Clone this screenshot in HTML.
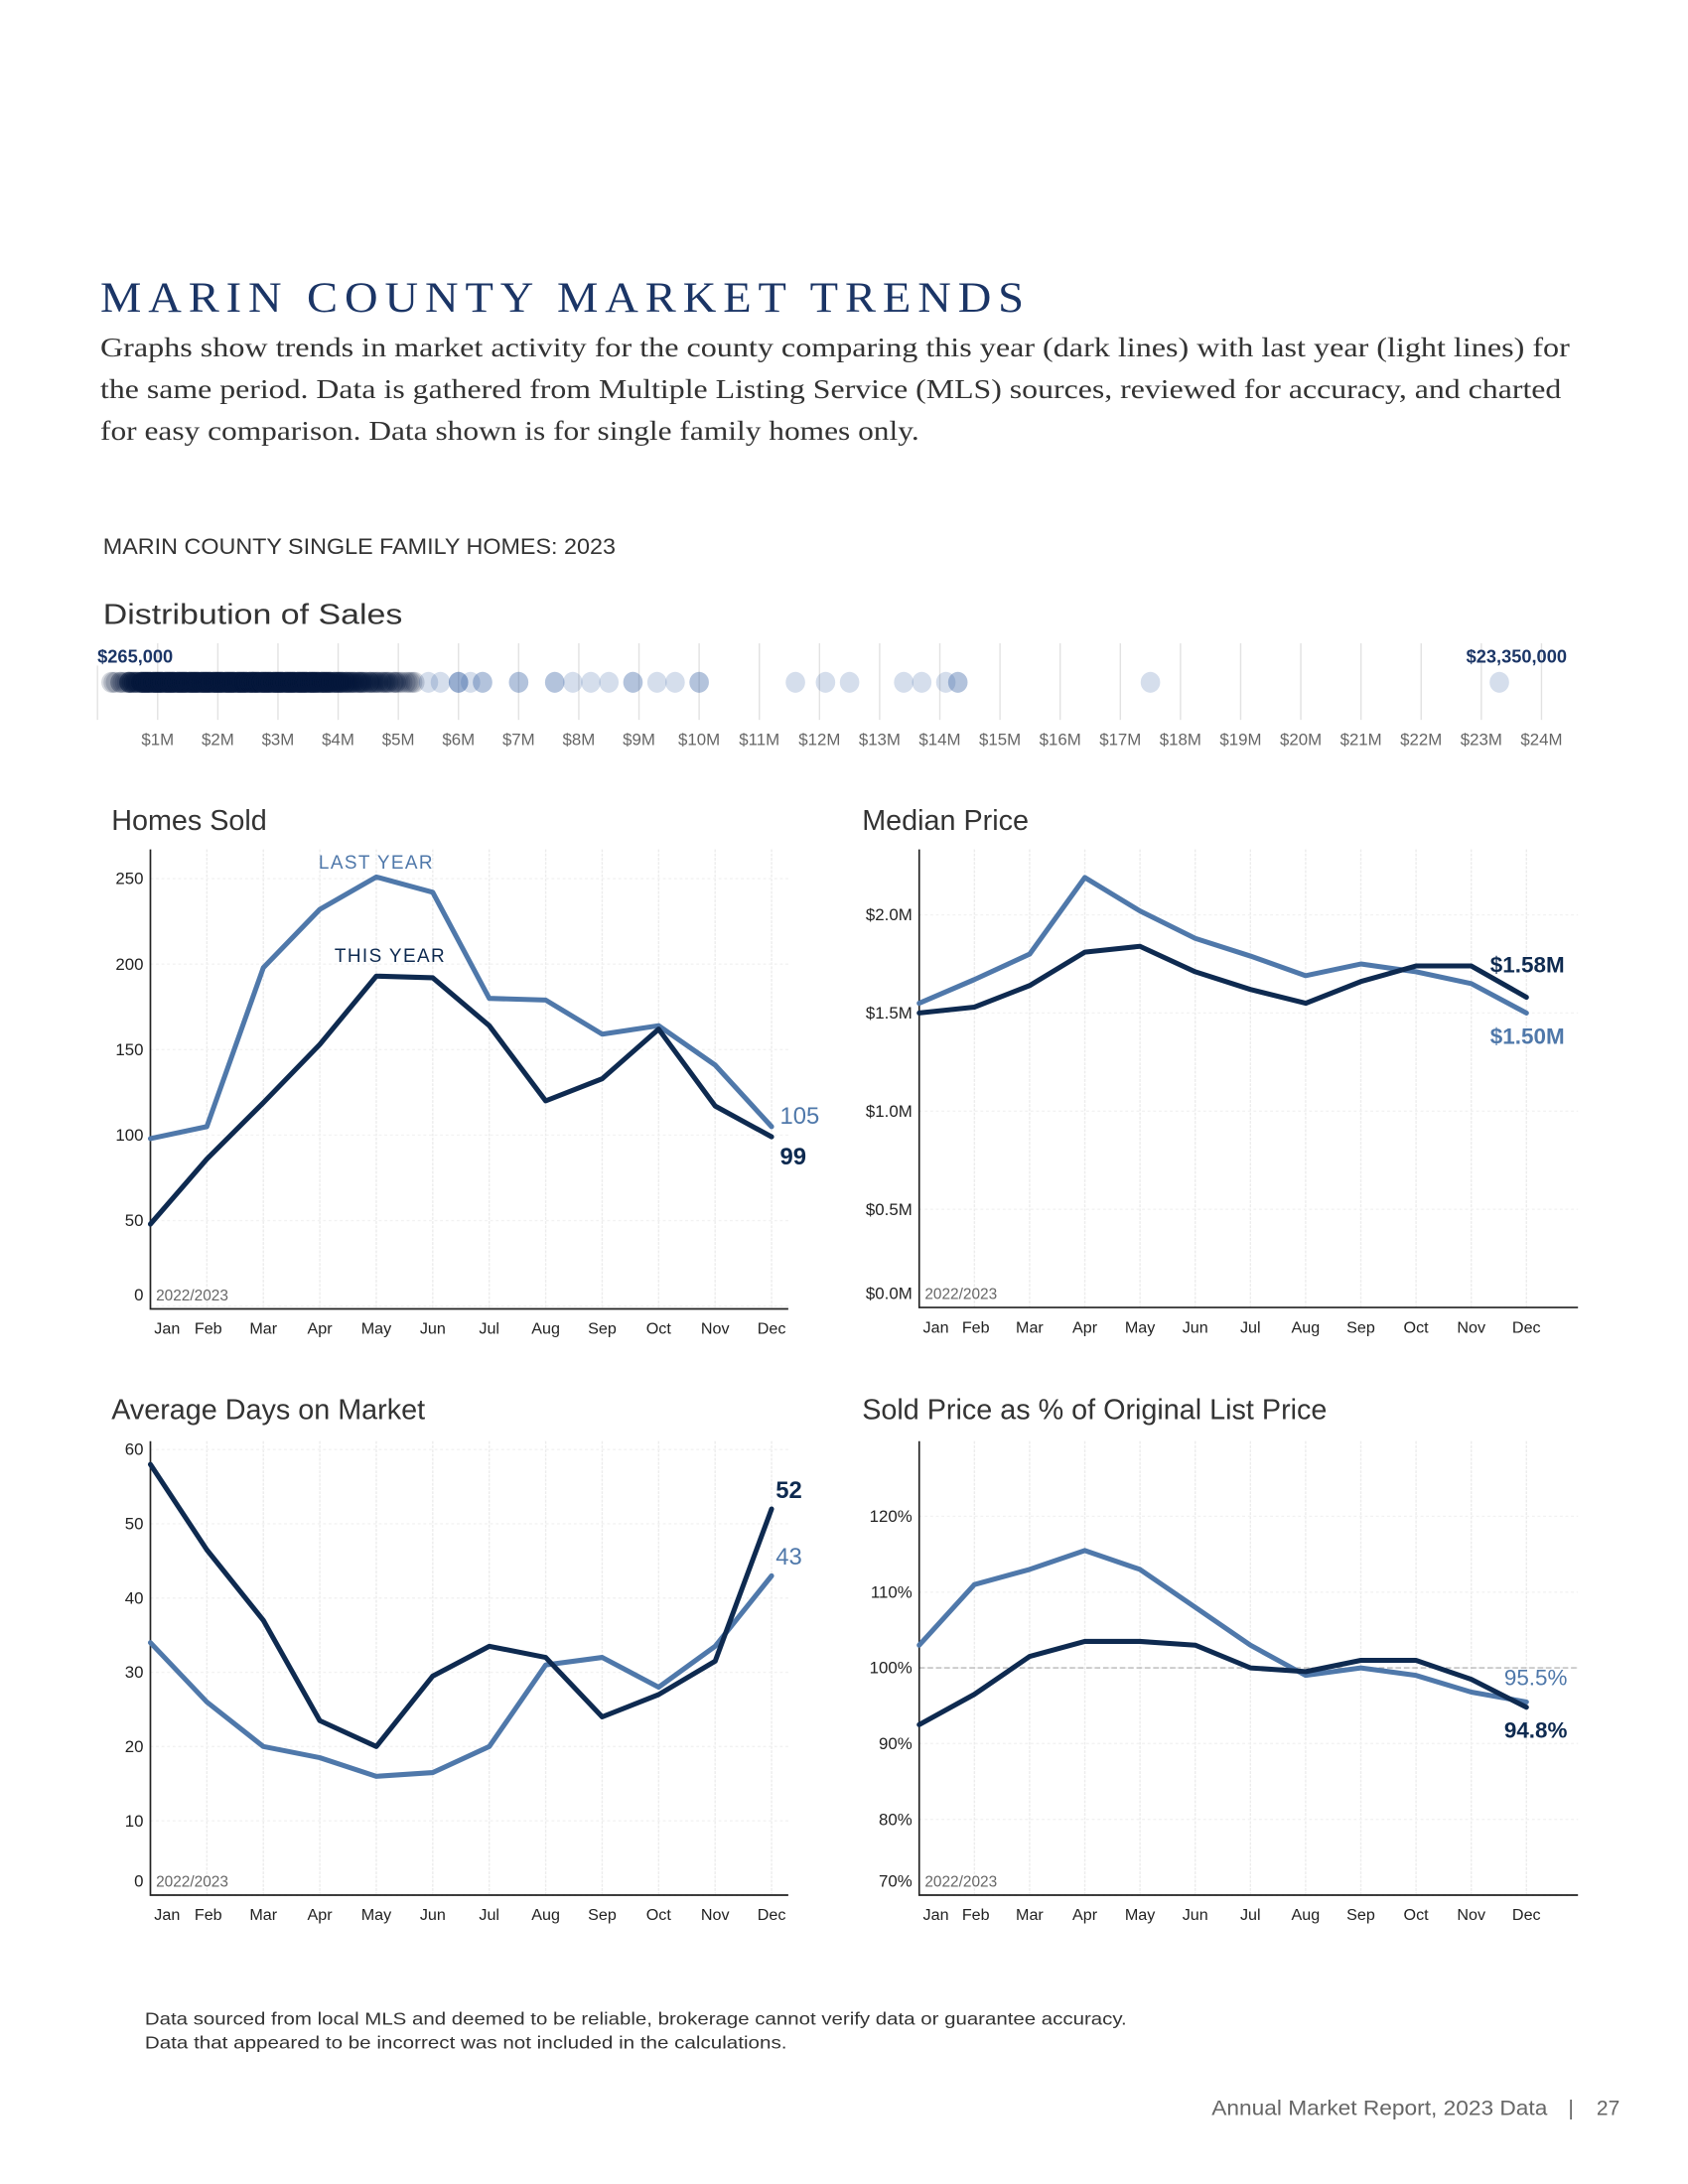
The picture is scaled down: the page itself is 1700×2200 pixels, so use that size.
<!DOCTYPE html>
<html><head><meta charset="utf-8">
<style>
html,body{margin:0;padding:0;background:#fff;}
svg{display:block;}
text{font-family:"Liberation Sans",sans-serif;}
</style></head>
<body>
<svg id="page" width="1700" height="2200" viewBox="0 0 1212 1568" preserveAspectRatio="xMinYMin meet" xmlns="http://www.w3.org/2000/svg">
<rect x="0" y="0" width="1224" height="1584" fill="#fff"/>
<text x="72" y="224" font-size="31" fill="#1b3566" letter-spacing="4.6" textLength="668" lengthAdjust="spacingAndGlyphs" style="font-family:'Liberation Serif',serif">MARIN COUNTY MARKET TRENDS</text>
<g fill="#333" font-size="19.5">
<text x="72" y="256" textLength="1055" lengthAdjust="spacingAndGlyphs" style="font-family:'Liberation Serif',serif">Graphs show trends in market activity for the county comparing this year (dark lines) with last year (light lines) for</text>
<text x="72" y="286" textLength="1049" lengthAdjust="spacingAndGlyphs" style="font-family:'Liberation Serif',serif">the same period. Data is gathered from Multiple Listing Service (MLS) sources, reviewed for accuracy, and charted</text>
<text x="72" y="316" textLength="588" lengthAdjust="spacingAndGlyphs" style="font-family:'Liberation Serif',serif">for easy comparison. Data shown is for single family homes only.</text>
</g>
<text x="74" y="398" font-size="16" fill="#333" textLength="368" lengthAdjust="spacingAndGlyphs">MARIN COUNTY SINGLE FAMILY HOMES: 2023</text>
<text x="74" y="448" font-size="20.5" fill="#333" textLength="215" lengthAdjust="spacingAndGlyphs">Distribution of Sales</text>
<g id="dist"></g>
<g id="c1"></g>
<g id="c2"></g>
<g id="c3"></g>
<g id="c4"></g>
<g fill="#333" font-size="12.5">
<text x="104" y="1454" textLength="705" lengthAdjust="spacingAndGlyphs">Data sourced from local MLS and deemed to be reliable, brokerage cannot verify data or guarantee accuracy.</text>
<text x="104" y="1471" textLength="461" lengthAdjust="spacingAndGlyphs">Data that appeared to be incorrect was not included in the calculations.</text>
</g>
<g fill="#666" font-size="15">
<text x="870" y="1519" textLength="241" lengthAdjust="spacingAndGlyphs">Annual Market Report, 2023 Data</text>
<text x="1126" y="1519">|</text>
<text x="1163" y="1519" text-anchor="end">27</text>
</g>
</svg>
<script>
// ---------- data ----------
const months = ["Jan","Feb","Mar","Apr","May","Jun","Jul","Aug","Sep","Oct","Nov","Dec"];
const soldThisYear = [48,86,119,153,193,192,164,120,133,162,117,99];
const soldLastYear = [98,105,198,232,251,242,180,179,159,164,141,105];
const soldTicks = [0,50,100,150,200,250];
const soldTickLabels = ["0","50","100","150","200","250"];
const priceThisYear = [1.50,1.53,1.64,1.81,1.84,1.71,1.62,1.55,1.66,1.74,1.74,1.58];
const priceLastYear = [1.55,1.67,1.80,2.19,2.02,1.88,1.79,1.69,1.75,1.71,1.65,1.50];
const priceTicks = [0,0.5,1.0,1.5,2.0];
const priceTickLabels = ["$0.0M","$0.5M","$1.0M","$1.5M","$2.0M"];
const domThisYear = [58,46.5,37,23.5,20,29.5,33.5,32,24,27,31.5,52];
const domLastYear = [34,26,20,18.5,16,16.5,20,31,32,28,33.5,43];
const domTicks = [0,10,20,30,40,50,60];
const domTickLabels = ["0","10","20","30","40","50","60"];
const pctThisYear = [92.5,96.5,101.5,103.5,103.5,103,100,99.5,101,101,98.5,94.8];
const pctLastYear = [103,111,113,115.5,113,108,103,99,100,99,96.8,95.5];
const pctTicks = [70,80,90,100,110,120];
const pctTickLabels = ["70%","80%","90%","100%","110%","120%"];
// distribution of sales ($M)
const distTicks = [1,2,3,4,5,6,7,8,9,10,11,12,13,14,15,16,17,18,19,20,21,22,23,24];
const denseBucketPrices = [0.3,0.45,0.6,0.8,1.0,1.2,1.4,1.6,1.8,2.0,2.2,2.4,2.6,2.8,3.0,3.2,3.4,3.6,3.8,4.0,4.2,4.4,4.6,4.8,5.0,5.2];
const denseBucketCounts = [3,6,16,30,30,30,30,30,30,30,30,30,30,30,30,30,30,28,26,20,16,13,11,9,7,5];
const sparseSales = [5.5,5.7,6.0,6.0,6.0,6.2,6.4,6.4,7.0,7.0,7.6,7.6,7.9,8.2,8.5,8.9,8.9,9.3,9.6,10.0,10.0,11.6,12.1,12.5,13.4,13.7,14.1,14.3,14.3,17.5,23.3];

const NS="http://www.w3.org/2000/svg";
const DARK="#0e2a50", LIGHT="#4f78aa";
function mk(parent,tag,attrs,txt){const e=document.createElementNS(NS,tag);for(const k in attrs)e.setAttribute(k,attrs[k]);if(txt!==undefined)e.textContent=txt;parent.appendChild(e);return e;}

// ---------- distribution ----------
(function(){
  const g=document.getElementById('dist');
  const xM=m=>70+43.2*m;
  for(const t of distTicks){
    const l=mk(g,'line',{x1:xM(t),x2:xM(t),y1:462,y2:517,stroke:'#e2e2e2','stroke-width':1});
    
    
    const tx=mk(g,'text',{x:xM(t),y:535,'font-size':12,fill:'#666','text-anchor':'middle'},'$'+t+'M');
    
    
  }
  mk(g,'line',{x1:70,x2:70,y1:478,y2:517,stroke:'#e2e2e2','stroke-width':1});
  denseBucketPrices.forEach((p,i)=>{
    for(let k=0;k<denseBucketCounts[i];k++){
      const c=mk(g,'ellipse',{cx:xM(p)+(k%5-2)*1.6,cy:490,rx:7,ry:7.5,fill:'#06153a','fill-opacity':0.17});
      
      
    }
  });
  for(const p of sparseSales){
    const c=mk(g,'ellipse',{cx:xM(p),cy:490,rx:7,ry:7.5,fill:'#2c5aa0','fill-opacity':0.2});
    
    
  }
  const a=mk(g,'text',{x:70,y:476,'font-size':13,'font-weight':'bold',fill:'#1b3566'},'$265,000');
  
  
  const b=mk(g,'text',{x:1125,y:476,'font-size':13,'font-weight':'bold',fill:'#1b3566','text-anchor':'end'},'$23,350,000');
  
  
})();

// ---------- line charts ----------
function chart(id,o){
  const g=document.getElementById(id);
  const x=i=>o.x0+i*(o.x1-o.x0)/11;
  const y=v=>o.yb-(v-o.vmin)/(o.vmax-o.vmin)*(o.yb-o.ytop);
  const t=mk(g,'text',{x:o.tx,y:o.ty,'font-size':20.5,fill:'#333'},o.title);
  
  
  months.forEach((m,i)=>{
    if(i>0){const gl=mk(g,'line',{x1:x(i),x2:x(i),y1:o.gtop,y2:o.axb,stroke:'#ececec','stroke-width':1,'stroke-dasharray':'2,1'});
    
    }
    const lx = i===0 ? x(0)+12 : (i===1 ? x(1)+1 : x(i));
    const ml=mk(g,'text',{x:lx,y:o.axb+18,'font-size':11.5,fill:'#222','text-anchor':'middle'},m);
    
    
  });
  o.ticks.forEach((v,i)=>{
    const hl=mk(g,'line',{x1:o.x0,x2:o.right,y1:y(v),y2:y(v),stroke:'#f2f2f2','stroke-width':1,'stroke-dasharray':'2,2'});
    
    
    const ty = i===0 ? o.axb-6 : y(v)+4;
    const tl=mk(g,'text',{x:o.x0-5,y:ty,'font-size':12,fill:'#222','text-anchor':'end'},o.labels[i]);
    
    
  });
  if(o.ref!==undefined){
    const rl=mk(g,'line',{x1:o.x0,x2:o.right,y1:y(o.ref),y2:y(o.ref),stroke:'#aaa','stroke-width':0.8,'stroke-dasharray':'4,2'});
    
    
  }
  const ax=mk(g,'path',{d:`M${o.x0},${o.gtop}V${o.axb}H${o.right}`,fill:'none',stroke:'#222','stroke-width':1.2});
  
  
  const yr=mk(g,'text',{x:o.x0+4,y:o.axb-6,'font-size':11,fill:'#666'},'2022/2023');
  
  
  const pts=a=>a.map((v,i)=>x(i).toFixed(1)+','+y(v).toFixed(1)).join(' ');
  const l1=mk(g,'polyline',{points:pts(o.last),fill:'none',stroke:LIGHT,'stroke-width':3.6,'stroke-linejoin':'round','stroke-linecap':'round'});
  
  
  const l2=mk(g,'polyline',{points:pts(o.cur),fill:'none',stroke:DARK,'stroke-width':3.6,'stroke-linejoin':'round','stroke-linecap':'round'});
  
  
  const e1=mk(g,'text',{x:x(11)+o.ex,y:y(o.last[11])+o.lastDy,'font-size':o.efs,fill:LIGHT,'font-weight':o.ew},o.fmt(o.last[11]));
  
  
  const e2=mk(g,'text',{x:x(11)+o.ex,y:y(o.cur[11])+o.curDy,'font-size':o.efs,fill:DARK,'font-weight':'bold'},o.fmt(o.cur[11]));
  
  
  return {x,y,g};
}
const c1=chart('c1',{title:'Homes Sold',tx:80,ty:596,x0:108,x1:554,right:566,gtop:610,axb:940,ytop:631,yb:938,vmin:0,vmax:250,ticks:soldTicks,labels:soldTickLabels,cur:soldThisYear,last:soldLastYear,ex:6,lastDy:-2,curDy:20,efs:17,ew:'normal',fmt:v=>String(v)});
{const a=mk(c1.g,'text',{x:c1.x(4),y:c1.y(251)-6,'font-size':13.5,fill:LIGHT,'text-anchor':'middle','letter-spacing':1},'LAST YEAR');


const b=mk(c1.g,'text',{x:c1.x(4)+10,y:c1.y(193)-10,'font-size':13.5,fill:DARK,'text-anchor':'middle','letter-spacing':1},'THIS YEAR');

}
chart('c2',{title:'Median Price',tx:619,ty:596,x0:660,x1:1096,right:1133,gtop:610,axb:939,ytop:657,yb:939,vmin:0,vmax:2.0,ticks:priceTicks,labels:priceTickLabels,cur:priceThisYear,last:priceLastYear,ex:-26,lastDy:22,curDy:-18,efs:16,ew:'bold',fmt:v=>'$'+v.toFixed(2)+'M'});
chart('c3',{title:'Average Days on Market',tx:80,ty:1019,x0:108,x1:554,right:566,gtop:1035,axb:1361,ytop:1041,yb:1361,vmin:0,vmax:60,ticks:domTicks,labels:domTickLabels,cur:domThisYear,last:domLastYear,ex:3,lastDy:-8,curDy:-8,efs:17,ew:'normal',fmt:v=>String(v)});
chart('c4',{title:'Sold Price as % of Original List Price',tx:619,ty:1019,x0:660,x1:1096,right:1133,gtop:1035,axb:1361,ytop:1089,yb:1361,vmin:70,vmax:120,ticks:pctTicks,labels:pctTickLabels,cur:pctThisYear,last:pctLastYear,ex:-16,lastDy:-12,curDy:22,efs:16,ew:'normal',fmt:v=>v.toFixed(1)+'%',ref:100});
</script>
</body></html>
